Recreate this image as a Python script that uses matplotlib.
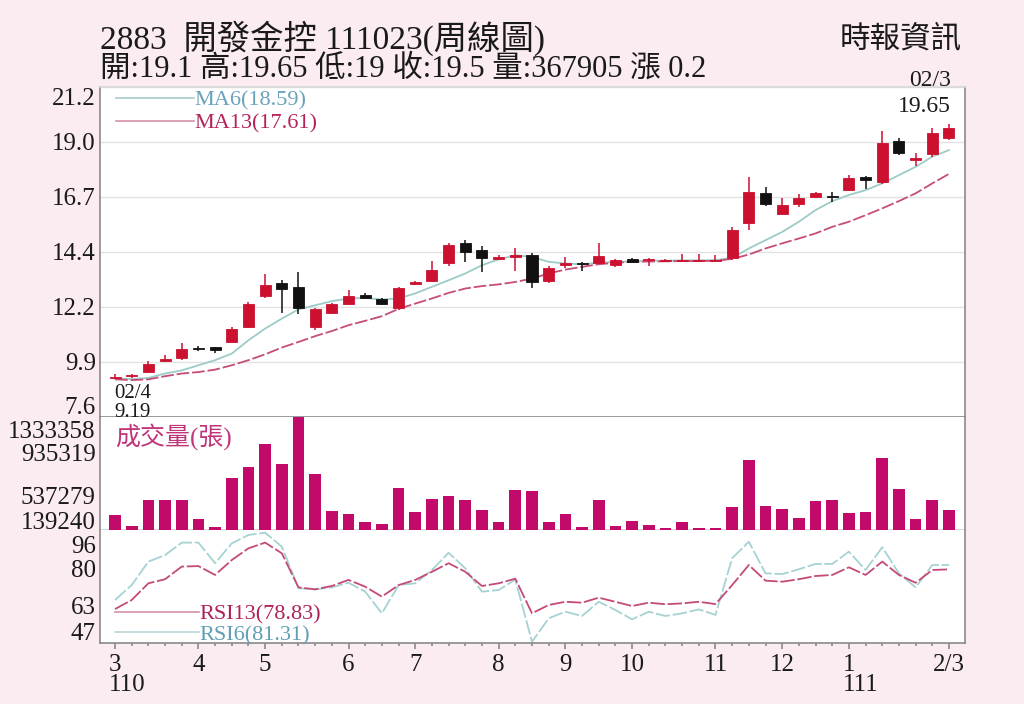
import matplotlib
matplotlib.use('Agg')
import matplotlib.pyplot as plt
import numpy as np
from matplotlib.lines import Line2D
from matplotlib.transforms import ScaledTranslation

plt.rcParams['font.family'] = ['Liberation Serif', 'Noto Sans CJK TC', 'DejaVu Sans']

# ---------------- data (weekly, 2021/02/04 .. 2022/02/03) ----------------
opens = [9.21, 9.27, 9.45, 9.90, 10.01, 10.45, 10.47, 10.67, 11.30, 12.57,
         13.13, 12.95, 11.31, 11.90, 12.25, 12.62, 12.47, 12.07, 13.07, 13.21,
         13.93, 14.77, 14.47, 14.10, 14.20, 14.27, 13.21, 13.85, 13.95, 13.93,
         13.86, 14.09, 14.05, 14.01, 14.02, 14.03, 14.03, 14.13, 15.57, 16.81,
         15.94, 16.35, 16.67, 16.70, 16.94, 17.49, 17.28, 18.96, 18.18, 18.41, 19.10]
highs = [9.36, 9.36, 9.90, 10.15, 10.64, 10.53, 10.50, 11.30, 12.33, 13.50,
         13.25, 13.55, 12.07, 12.30, 12.83, 12.70, 12.50, 12.95, 13.20, 14.03,
         14.75, 14.90, 14.65, 14.25, 14.55, 14.37, 13.80, 14.20, 14.00, 14.75,
         14.10, 14.15, 14.13, 14.10, 14.33, 14.33, 14.27, 15.43, 17.49, 17.08,
         16.62, 16.78, 16.88, 16.87, 17.56, 17.52, 19.37, 19.07, 18.46, 19.49, 19.65]
lows = [9.19, 9.22, 9.43, 9.88, 9.95, 10.30, 10.25, 10.63, 11.25, 12.50,
        11.90, 11.85, 11.18, 11.85, 12.20, 12.45, 12.23, 12.00, 13.05, 13.15,
        13.83, 14.00, 13.55, 14.05, 13.60, 12.90, 13.10, 13.75, 13.63, 13.90,
        13.77, 13.95, 13.80, 13.97, 14.00, 14.00, 14.00, 14.08, 15.30, 16.30,
        15.90, 16.25, 16.62, 16.46, 16.90, 17.00, 17.20, 18.40, 17.94, 18.30, 19.00]
closes = [9.24, 9.30, 9.80, 9.97, 10.42, 10.40, 10.37, 11.21, 12.25, 13.05,
          12.87, 12.07, 12.03, 12.27, 12.60, 12.50, 12.27, 12.90, 13.15, 13.65,
          14.68, 14.40, 14.13, 14.20, 14.25, 13.17, 13.75, 13.95, 13.90, 14.23,
          14.05, 13.99, 14.07, 14.04, 14.05, 14.05, 14.05, 15.29, 16.85, 16.35,
          16.32, 16.60, 16.83, 16.67, 17.45, 17.36, 18.87, 18.46, 18.27, 19.30, 19.50]
ma6 = [9.18, 9.16, 9.21, 9.39, 9.52, 9.73, 9.94, 10.21, 10.76, 11.24,
       11.65, 12.03, 12.20, 12.37, 12.48, 12.50, 12.44, 12.48, 12.69, 12.96,
       13.23, 13.51, 13.85, 14.09, 14.26, 14.19, 13.99, 13.92, 13.89, 13.95,
       13.99, 14.00, 14.03, 14.04, 14.05, 14.05, 14.06, 14.15, 14.54, 14.88,
       15.22, 15.64, 16.12, 16.49, 16.74, 16.94, 17.22, 17.56, 17.90, 18.32, 18.59]
ma13 = [9.15, 9.12, 9.15, 9.28, 9.39, 9.45, 9.55, 9.73, 9.94, 10.18,
        10.46, 10.69, 10.93, 11.14, 11.38, 11.56, 11.75, 12.05, 12.27, 12.48,
        12.71, 12.89, 12.99, 13.06, 13.16, 13.30, 13.51, 13.67, 13.78, 13.89,
        13.95, 13.99, 14.00, 14.01, 14.02, 14.02, 14.03, 14.11, 14.29, 14.54,
        14.75, 14.95, 15.16, 15.43, 15.64, 15.91, 16.19, 16.49, 16.81, 17.22, 17.61]
volume = [178600, 51000, 357000, 355000, 355000, 127000, 40000, 615000, 746000, 1012000,
          774000, 1333358, 655000, 226000, 190000, 99000, 71000, 496000, 218000, 365000,
          405000, 349000, 238000, 92000, 476000, 464000, 99000, 187000, 40000, 357000,
          51000, 107000, 60000, 20000, 99000, 28000, 20000, 266000, 825000, 278000,
          246000, 139000, 337000, 349000, 206000, 218000, 853000, 484000, 127000, 357000, 238000]
rsi6 = [61.6, 70.0, 83.2, 86.9, 93.9, 93.9, 82.3, 93.5, 98.2, 99.5,
        91.6, 68.2, 67.6, 68.7, 71.3, 66.3, 54.1, 70.0, 71.0, 78.5,
        88.2, 79.4, 66.3, 67.2, 73.1, 38.1, 51.3, 55.0, 52.6, 60.6,
        56.0, 50.7, 55.0, 52.6, 54.1, 56.3, 53.2, 85.1, 94.4, 76.6,
        76.2, 78.9, 81.9, 81.9, 88.8, 78.5, 91.3, 76.6, 68.7, 81.3, 81.31]
rsi13 = [56.5, 61.6, 71.0, 73.3, 80.4, 80.7, 75.7, 84.1, 90.7, 93.9,
         87.9, 68.7, 67.6, 69.5, 72.9, 69.1, 63.5, 70.0, 72.9, 77.5,
         82.3, 77.5, 69.5, 71.0, 73.6, 54.1, 58.8, 60.6, 60.1, 62.9,
         60.6, 58.2, 60.1, 59.2, 59.7, 60.6, 59.3, 70.0, 81.3, 72.5,
         71.9, 73.3, 75.1, 75.7, 80.0, 75.7, 83.2, 75.7, 71.3, 78.5, 78.83]

month_pos = [0, 5, 9, 14, 18, 23, 27, 31, 36, 40, 44, 50]
month_labels = ['3', '4', '5', '6', '7', '8', '9', '10', '11', '12', '1', '2/3']
year_marks = [(0, '110'), (44, '111')]

price_ticks = list(np.linspace(7.6, 21.2, 7))
price_tick_labels = ['7.6', '9.9', '12.2', '14.4', '16.7', '19.0', '21.2']
vol_ticks = [139240, 537279, 935319, 1333358]
rsi_ticks = [47, 63, 80, 96]

title1 = '2883  開發金控 111023(周線圖)'
title2 = '開:19.1 高:19.65 低:19 收:19.5 量:367905 漲 0.2'
source = '時報資訊'

# ---------------- style ----------------
BG = '#faecf0'
RED = '#cc1030'
BLACK = '#111111'
VOLC = '#c20a6b'
MA6_LINE = '#9ccbc8'
MA13_LINE = '#c64d76'
MA6_TXT = '#6aa2bb'
MA13_TXT = '#b3245c'
SPINE = '#8a8a8a'
TXT = '#1a1a1a'

x = np.arange(len(opens))
fig = plt.figure(figsize=(10.24, 7.04), dpi=100, facecolor=BG)
L, R = 100 / 1024, 965 / 1024


def fy(p):
    return 1 - p / 704


ax1 = fig.add_axes([L, fy(417), R - L, fy(86.7) - fy(417)])
ax2 = fig.add_axes([L, fy(530), R - L, fy(417) - fy(530)], sharex=ax1)
ax3 = fig.add_axes([L, fy(643), R - L, fy(530) - fy(643)], sharex=ax1)

for ax in (ax1, ax2, ax3):
    ax.set_facecolor('white')
    for s in ax.spines.values():
        s.set_color(SPINE)
        s.set_linewidth(1.2)
    ax.tick_params(axis='y', length=0, labelsize=18, colors=TXT, pad=3)
ax1.spines['top'].set_color('#d8d8d8')
ax2.spines['top'].set_visible(False)
ax3.spines['top'].set_visible(False)
ax2.spines['bottom'].set_color('#d0d0d0')

# ---------------- price panel ----------------
o = np.array(opens); c = np.array(closes); h = np.array(highs); lo = np.array(lows)
up = c >= o
cols = np.where(up, RED, BLACK)
ax1.vlines(x, lo, h, colors=cols, linewidth=1.1, zorder=3)
body_bottom = np.minimum(o, c)
body_h = np.maximum(np.abs(c - o), 0.045)
ax1.bar(x, body_h, bottom=body_bottom, width=0.66, color=cols, edgecolor=cols,
        linewidth=0.6, zorder=4)
ax1.plot(x, ma6, color=MA6_LINE, lw=1.3, zorder=2)
ax1.plot(x, ma13, color=MA13_LINE, lw=1.3, dashes=(7, 1.6), zorder=2)

ax1.set_ylim(7.6, 21.2)
ax1.set_xlim(-0.9, 50.96)
ax1.set_yticks(price_ticks)
ax1.set_yticklabels(price_tick_labels)
ax1.grid(axis='y', color='#e2e2e2', lw=1.0)
ax1.tick_params(axis='x', bottom=False, labelbottom=False)

handles = [Line2D([], [], color='#a9c9c9', lw=1.2), Line2D([], [], color='#d690a8', lw=1.2)]
leg1 = ax1.legend(handles, [f'MA6({ma6[-1]:.2f})', f'MA13({ma13[-1]:.2f})'],
                  loc='upper left', bbox_to_anchor=(0.019, 0.99), frameon=False,
                  fontsize=16, handlelength=3.5, handletextpad=0.0, labelspacing=0.12,
                  borderaxespad=0, borderpad=0, labelcolor=[MA6_TXT, MA13_TXT])

imin = int(np.argmin(lows))
ax1.annotate('02/4', xy=(x[imin], lows[imin]), xytext=(-1, -15), textcoords='offset pixels',
             ha='left', va='center', fontsize=15, color=TXT)
ax1.annotate(f'{lows[imin]:.2f}', xy=(x[imin], lows[imin]), xytext=(-1, -34),
             textcoords='offset pixels', ha='left', va='center', fontsize=15, color=TXT)
imax = int(np.argmax(highs))
ax1.annotate('02/3', xy=(x[imax], highs[imax]), xytext=(2, 44), textcoords='offset pixels',
             ha='right', va='center', fontsize=17, color=TXT)
ax1.annotate(f'{highs[imax]:.2f}', xy=(x[imax], highs[imax]), xytext=(2, 18),
             textcoords='offset pixels', ha='right', va='center', fontsize=17, color=TXT)

# ---------------- volume panel ----------------
ax2.bar(x, volume, width=0.7, color=VOLC, zorder=3)
ax2.set_ylim(0, max(volume))
ax2.set_yticks(vol_ticks)
ax2.set_yticklabels([str(v) for v in vol_ticks])
ax2.tick_params(axis='x', bottom=False, labelbottom=False)
ax2.text(0.017, 0.83, '成交量(張)', transform=ax2.transAxes, ha='left', va='center',
         fontsize=18, color='#c0357a')

# ---------------- RSI panel ----------------
ax3.plot(x, rsi6, color='#a6d2d3', lw=1.3, dashes=(8, 1.5), zorder=2)
ax3.plot(x, rsi13, color='#c44a78', lw=1.3, dashes=(8, 1.5), zorder=3)
ax3.set_ylim(37.4, 101.0)
ax3.set_yticks(rsi_ticks)
ax3.set_yticklabels([str(v) for v in rsi_ticks])
ax3.set_xticks(month_pos)
ax3.set_xticklabels(month_labels)
ax3.set_xticks(x, minor=True)
ax3.tick_params(axis='x', which='major', length=4, width=1.2, color=SPINE, labelsize=18,
                colors=TXT, pad=4)
ax3.tick_params(axis='x', which='minor', length=2.5, width=1.2, color=SPINE)
for pos, lab in year_marks:
    ax3.annotate(lab, xy=(pos, 0), xycoords=('data', 'axes fraction'), xytext=(-6, -42),
                 textcoords='offset pixels', ha='left', va='center', fontsize=18, color=TXT)

handles3 = [Line2D([], [], color='#d690a8', lw=1.2), Line2D([], [], color='#b9d6d6', lw=1.2)]
ax3.legend(handles3, [f'RSI13({rsi13[-1]:.2f})', f'RSI6({rsi6[-1]:.2f})'],
           loc='lower left', bbox_to_anchor=(0.017, -0.02), frameon=False,
           fontsize=16, handlelength=3.8, handletextpad=0.0, labelspacing=0.0,
           borderaxespad=0, borderpad=0, labelcolor=['#b0205a', '#5f9fb5'])

# ---------------- tick label offsets (as in reference) ----------------
def shift(ax, offs):
    for lab, d in zip(ax.get_yticklabels(), offs):
        lab.set_transform(lab.get_transform() + ScaledTranslation(0, -d / 100, fig.dpi_scale_trans))

shift(ax1, [-12, 0, 0, 0, 0, 0, 10])
shift(ax2, [2, 11, 2, 13])
shift(ax3, [6, 8, 1, 6])

# ---------------- header ----------------
fig.text(100 / 1024, fy(38), title1, fontsize=24, ha='left', va='center', color=TXT)
fig.text(100 / 1024, fy(69), title2, fontsize=22, ha='left', va='center', color=TXT)
fig.text(962 / 1024, fy(41), source, fontsize=22, ha='right', va='center', color=TXT)

fig.savefig('out.png', dpi=100, facecolor=BG)
